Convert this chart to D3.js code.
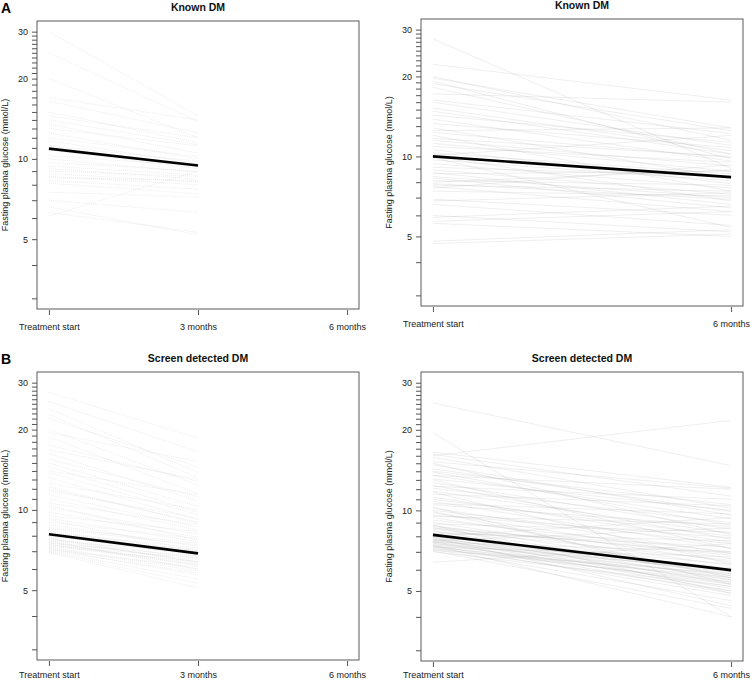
<!DOCTYPE html>
<html><head><meta charset="utf-8">
<script src="https://cdn.jsdelivr.net/npm/d3@7"></script>
<style>body{margin:0;background:#fff}svg{display:block;font-family:"Liberation Sans",Arial,sans-serif}</style>
</head><body>
<svg id="c" width="750" height="681"></svg>
<script>
// ---------- data (mmol/L) ----------
const timeLabels = ["Treatment start", "3 months", "6 months"];
const timeValues = [0, 3, 6];
const yTickLabels = [5, 10, 20, 30];
const yMinorTicks = d3.range(3, 31);

// Known DM, treatment start -> 3 months
const known3Start = [30,25,20,17,16.5,15,14.5,14,13.5,13,12.5,12,11.7,11.2,10.8,10.3,10,9.7,9.4,9.2,9.0,8.8,8.6,8.5,8.3,8.1,7.0,6.6,6.3,6.1,7.5];
const known3End   = [14.5,13.8,12,14,12.5,11.5,12,11.3,10.5,11.2,10,10.2,9.6,9.8,9.2,9.4,8.9,9,8.7,8.4,8.6,8.2,8.0,8.3,7.7,7.4,6.3,5.2,5.3,9.0,7.2];
const known3Mean  = [10.93, 9.44];

// Known DM, treatment start -> 6 months
const known6Start = [27.7,22.2,20,19.7,18.8,18.2,17.2,16.3,16,15.2,14.3,13.8,13.3,12.8,12.3,12,11.7,11.5,11.2,10.9,10.6,10.3,10.1,9.7,9.4,9.1,8.9,8.7,8.6,8.4,8.3,8.1,7.9,7.8,7.7,7.6,7.4,6.9,6.8,6.6,6.0,5.9,5.7,5.6,4.8,4.7,12.5,14.8,9.9,8.0,19.2,10.0];
const known6End   = [9.0,16.3,11.5,12.8,12.5,10.2,16,12.2,11,10.5,11.3,9.6,10.8,8.3,9.9,7.4,10,9.2,8.8,9.5,7.9,8.6,12.0,8.1,7.6,8.4,7.2,6.6,8.8,7.0,6.4,7.8,6.9,7.4,6.2,9.3,7.1,6.0,7.3,5.5,5.2,6.5,6.2,5.0,5.3,5.1,12.8,10.2,5.4,8.9,9.8,6.8];
const known6Mean  = [10.0, 8.36];

// Screen detected DM, treatment start -> 3 months
const screen3Start = [27.6,25.5,22.8,22,20,18.8,17.5,16.3,15.5,15,14.5,13.8,13.2,12.6,12.2,11.8,11.4,11,10.6,10.2,9.8,9.5,9.3,9.0,8.8,8.6,8.4,8.2,8.0,7.9,7.8,7.7,7.6,7.5,7.45,7.4,7.3,7.25,7.2,7.15,7.1,7.0,7.05,6.95,6.9,7.35,7.55,7.65,7.75,7.85,8.1,8.3,8.5,9.2,10.4,12.0,14.0,16.8,19.5,24];
const screen3End   = [18.6,16.5,13.2,14.5,12.4,11.5,12.8,10.8,11.2,10.3,9.8,9.6,9.2,10.0,8.9,9.3,8.6,8.4,8.8,8.1,7.9,8.3,7.6,7.8,7.3,7.5,7.0,7.2,6.8,7.1,6.6,6.9,6.5,6.7,6.3,6.2,6.4,6.0,5.9,5.7,6.1,5.5,5.8,5.3,5.1,6.6,6.2,6.0,6.4,6.35,6.7,6.9,7.4,7.0,7.7,9.0,11.4,13.0,15.2,13.8];
const screen3Mean  = [8.1, 6.87];

// Screen detected DM, treatment start -> 6 months
const screen6Start = [25.2,19.5,16,16.5,16.2,15.8,15.2,14.8,14.3,13.9,13.5,13.1,12.7,12.4,12.1,11.8,11.5,11.2,11.0,10.8,10.5,10.2,10.0,9.8,9.6,9.4,9.2,9.0,8.9,8.8,8.7,8.6,8.5,8.4,8.3,8.2,8.1,8.05,8.0,7.95,7.9,7.85,7.8,7.75,7.7,7.65,7.6,7.55,7.5,7.45,7.4,7.35,7.3,7.25,7.2,7.15,7.1,7.05,7.0,6.4,7.3,7.6,8.2,8.6,9.5,10.6,12.3,13.5,14.0,11.7,9.9,8.8,7.9,7.4,10.3,13.0,15.0,8.0,7.7];
const screen6End   = [14.7,4.0,21.7,12.2,11.3,10.2,12.1,9.6,9.9,8.8,9.3,10.0,8.5,7.8,9.0,8.2,10.4,7.6,8.0,7.2,8.7,6.9,7.5,6.6,7.9,6.4,7.0,6.2,8.3,5.9,6.8,5.7,6.5,5.5,7.3,5.3,6.0,5.8,5.1,6.3,5.6,5.0,6.1,5.4,5.9,4.9,5.7,5.2,6.0,5.5,4.8,5.3,5.6,5.0,5.4,4.6,5.8,4.3,5.2,7.5,6.7,7.0,7.7,6.9,8.9,9.7,11.0,12.0,10.5,6.3,5.6,4.9,4.4,4.0,5.3,7.2,8.1,9.4,8.6];
const screen6Mean  = [8.1, 5.98];

// ---------- drawing ----------
const svg = d3.select("#c");
const FONT = '"Liberation Sans",Arial,sans-serif';

function panel(cfg) {
  const {left, right, top, bottom, title, startVals, endVals, meanVals, endTime, xTicks, light, labelY} = cfg;
  const x = d3.scaleLinear().domain([-0.24, 6.24]).range([left, right]);
  const lo = Math.log10(3) - 0.04, hi = Math.log10(30) + 0.04;
  const y = d3.scaleLog().domain([Math.pow(10, lo), Math.pow(10, hi)]).range([bottom, top]);
  const g = svg.append("g");
  const line = d3.line().x(d => x(d[0])).y(d => y(d[1]));

  const clip = "clip" + Math.round(left) + "_" + Math.round(top);
  g.append("clipPath").attr("id", clip).append("rect")
    .attr("x", left).attr("y", top).attr("width", right - left).attr("height", bottom - top);

  const lines = g.append("g").attr("clip-path", `url(#${clip})`);
  startVals.forEach((s, i) => {
    lines.append("path")
      .attr("d", line([[0, s], [endTime, endVals[i]]]))
      .attr("fill", "none")
      .attr("stroke", light ? "#c4c4c4" : "#a8a8a8")
      .attr("stroke-opacity", light ? 0.42 : 0.3)
      .attr("stroke-width", 0.6)
      .attr("stroke-dasharray", light ? "1.2,0.8" : null);
  });
  lines.append("path")
    .attr("d", line([[0, meanVals[0]], [endTime, meanVals[1]]]))
    .attr("fill", "none").attr("stroke", "#000").attr("stroke-width", 2.6);

  // box
  g.append("rect").attr("x", left).attr("y", top).attr("width", right - left).attr("height", bottom - top)
    .attr("fill", "none").attr("stroke", "#5a5a5a").attr("stroke-width", 1);

  // y axis
  const ya = d3.axisLeft(y).tickValues(yMinorTicks).tickSize(5).tickSizeOuter(0)
    .tickFormat(d => yTickLabels.includes(d) ? d : "");
  const yg = g.append("g").attr("transform", `translate(${left},0)`).call(ya);
  yg.select(".domain").remove();
  yg.selectAll(".tick line").attr("stroke", "#555");
  yg.selectAll(".tick text").attr("x", -9).attr("font-size", 9).attr("font-family", FONT).attr("fill", "#222");

  // x axis
  const xa = d3.axisBottom(x).tickValues(xTicks).tickSize(5).tickSizeOuter(0)
    .tickFormat(d => timeLabels[timeValues.indexOf(d)]);
  const xg = g.append("g").attr("transform", `translate(0,${bottom + 1})`).call(xa);
  xg.select(".domain").remove();
  xg.selectAll(".tick line").attr("stroke", "#555");
  xg.selectAll(".tick text").attr("y", labelY).attr("font-size", 9).attr("font-family", FONT).attr("fill", "#222");

  // y title
  g.append("text")
    .attr("transform", `translate(${left - 32},${(top + bottom) / 2}) rotate(-90)`)
    .attr("text-anchor", "middle").attr("dominant-baseline", "central")
    .attr("font-size", 9).attr("font-family", FONT).attr("fill", "#222")
    .text("Fasting plasma glucose (mmol/L)");

  // title
  g.append("text").attr("x", (left + right) / 2).attr("y", top - 10)
    .attr("text-anchor", "middle").attr("font-size", 10.5).attr("font-weight", "bold")
    .attr("font-family", FONT).attr("fill", "#111").text(title);
}

panel({left: 37, right: 359, top: 21, bottom: 309, title: "Known DM",
  startVals: known3Start, endVals: known3End, meanVals: known3Mean, endTime: 3, xTicks: [0, 3, 6], light: true, labelY: 14});
panel({left: 421, right: 743, top: 19, bottom: 306, title: "Known DM",
  startVals: known6Start, endVals: known6End, meanVals: known6Mean, endTime: 6, xTicks: [0, 6], light: false, labelY: 14});
panel({left: 37, right: 359, top: 372, bottom: 660, title: "Screen detected DM",
  startVals: screen3Start, endVals: screen3End, meanVals: screen3Mean, endTime: 3, xTicks: [0, 3, 6], light: true, labelY: 11});
panel({left: 421, right: 743, top: 372, bottom: 661, title: "Screen detected DM",
  startVals: screen6Start, endVals: screen6End, meanVals: screen6Mean, endTime: 6, xTicks: [0, 6], light: false, labelY: 10});

svg.append("text").attr("x", 1).attr("y", 13).attr("font-size", 14).attr("font-weight", "bold")
  .attr("font-family", FONT).text("A");
svg.append("text").attr("x", 1).attr("y", 364).attr("font-size", 14).attr("font-weight", "bold")
  .attr("font-family", FONT).text("B");
</script>
</body></html>
